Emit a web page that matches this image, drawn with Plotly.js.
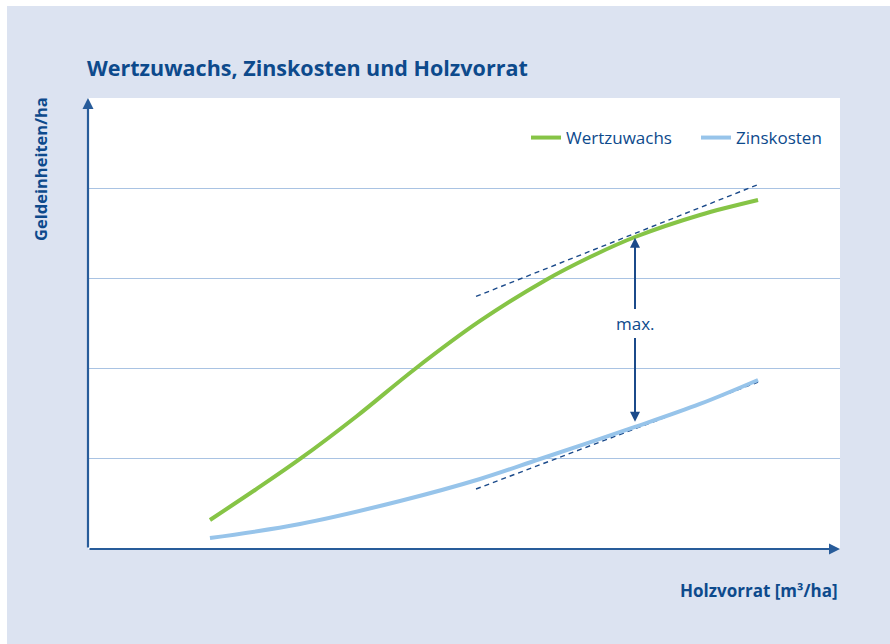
<!DOCTYPE html>
<html>
<head>
<meta charset="utf-8">
<script src="https://cdn.plot.ly/plotly-3.0.1.min.js"></script>
<style>html,body{margin:0;padding:0;background:#fff;}#chart{width:890px;height:644px;}</style>
</head>
<body>
<div id="chart"></div>
<script>
// Data (arbitrary units)
const wertX = [1.622, 2.221, 2.819, 3.577, 4.348, 5.213, 6.077, 6.676, 7.274, 8.138, 8.910];
const wertY = [0.322, 0.654, 0.998, 1.475, 1.996, 2.528, 2.977, 3.237, 3.459, 3.703, 3.869];
const zinsX = [1.622, 2.819, 4.149, 5.213, 6.011, 7.274, 8.138, 8.910];
const zinsY = [0.122, 0.277, 0.532, 0.776, 0.998, 1.353, 1.608, 1.874];
const tangentX = [5.16, 8.91];
const tangentWertY = [2.80, 4.04];
const tangentZinsY = [0.665, 1.85];
const maxX = 7.274;
const maxTop = 3.45, maxBottom = 1.41, maxTextY = 2.5;
const gridVals = [1, 2, 3, 4];
const seriesNames = ['Wertzuwachs', 'Zinskosten'];

const dark = '#0d4a8c';
const axisCol = '#285c9a';
const font = 'Open Sans, sans-serif';

const traces = [
  {x: tangentX, y: tangentWertY, mode: 'lines', line: {color: '#1b4a8a', width: 1.4, dash: '5px,4px'}, showlegend: false, hoverinfo: 'skip'},
  {x: tangentX, y: tangentZinsY, mode: 'lines', line: {color: '#1b4a8a', width: 1.4, dash: '5px,4px'}, showlegend: false, hoverinfo: 'skip'},
  {x: wertX, y: wertY, name: seriesNames[0], mode: 'lines', line: {color: '#86c446', width: 4, shape: 'spline'}},
  {x: zinsX, y: zinsY, name: seriesNames[1], mode: 'lines', line: {color: '#97c4ea', width: 4, shape: 'spline'}}
];

const layout = {
  width: 890, height: 644,
  margin: {l: 88, r: 50, t: 98, b: 95},
  paper_bgcolor: '#ffffff',
  plot_bgcolor: '#ffffff',
  font: {family: font, color: dark},
  title: {text: '<b>Wertzuwachs, Zinskosten und Holzvorrat</b>', font: {size: 21.5, color: dark, family: font},
          x: 87/890, xanchor: 'left', y: 1 - 68/644, yanchor: 'middle'},
  xaxis: {range: [0, 10], showgrid: false, zeroline: false, showline: false, showticklabels: false, ticks: '', fixedrange: true},
  yaxis: {range: [0, 5], tickvals: gridVals, showgrid: true, gridcolor: '#a9c3e3', gridwidth: 1.2, zeroline: false, showline: false, showticklabels: false, ticks: '', fixedrange: true},
  showlegend: true,
  legend: {orientation: 'h', x: (526-88)/752, y: (549-138)/451, xanchor: 'left', yanchor: 'middle',
           bgcolor: 'rgba(0,0,0,0)', font: {size: 17, color: dark, family: font}, traceorder: 'normal', itemwidth: 30,
           entrywidth: 125, entrywidthmode: 'pixels'},
  shapes: [
    {type: 'rect', xref: 'paper', yref: 'paper', x0: (7-88)/752, x1: 1.2, y0: -0.3, y1: (549-6)/451, fillcolor: '#dce3f1', line: {width: 0}, layer: 'below'},
    {type: 'rect', xref: 'paper', yref: 'paper', x0: 0, x1: 1, y0: 0, y1: 1, fillcolor: '#ffffff', line: {width: 0}, layer: 'below'},
    {type: 'line', xref: 'x', yref: 'y', x0: maxX, x1: maxX, y0: maxTextY + 0.16, y1: maxTop - 0.05, line: {color: '#1b4a8a', width: 2}},
    {type: 'line', xref: 'x', yref: 'y', x0: maxX, x1: maxX, y0: maxTextY - 0.16, y1: maxBottom + 0.05, line: {color: '#1b4a8a', width: 2}}
  ],
  annotations: [
    {xref: 'paper', yref: 'paper', x: 0, y: 1, ax: 0, ay: 451, axref: 'pixel', ayref: 'pixel', text: '', showarrow: true,
     arrowhead: 2, arrowsize: 1, arrowwidth: 2.2, arrowcolor: axisCol, standoff: 0},
    {xref: 'paper', yref: 'paper', x: 1, y: 0, ax: -752, ay: 0, text: '', showarrow: true,
     arrowhead: 2, arrowsize: 1, arrowwidth: 2.2, arrowcolor: axisCol, standoff: 0},
    {xref: 'x', yref: 'y', x: maxX, y: maxTop, ax: maxX, ay: maxTextY + 0.3, axref: 'x', ayref: 'y', text: '', showarrow: true,
     arrowhead: 2, arrowsize: 1, arrowwidth: 2, arrowcolor: '#1b4a8a', standoff: 0},
    {xref: 'x', yref: 'y', x: maxX, y: maxBottom, ax: maxX, ay: maxTextY - 0.3, axref: 'x', ayref: 'y', text: '', showarrow: true,
     arrowhead: 2, arrowsize: 1, arrowwidth: 2, arrowcolor: '#1b4a8a', standoff: 0},
    {xref: 'x', yref: 'y', x: maxX, y: maxTextY, text: 'max.', showarrow: false, font: {size: 17, color: dark, family: font}},
    {xref: 'paper', yref: 'paper', x: (40-88)/752, y: (549-169)/451, text: '<b>Geldeinheiten/ha</b>', textangle: -90, showarrow: false,
     font: {size: 16.5, color: dark, family: font}, xanchor: 'center', yanchor: 'middle'},
    {xref: 'paper', yref: 'paper', x: 1, y: (549-590)/451, text: '<b>Holzvorrat [m³/ha]</b>', showarrow: false,
     font: {size: 17, color: dark, family: font}, xanchor: 'right', yanchor: 'middle'}
  ]
};

Plotly.newPlot('chart', traces, layout, {displayModeBar: false, staticPlot: true});
</script>
</body>
</html>
